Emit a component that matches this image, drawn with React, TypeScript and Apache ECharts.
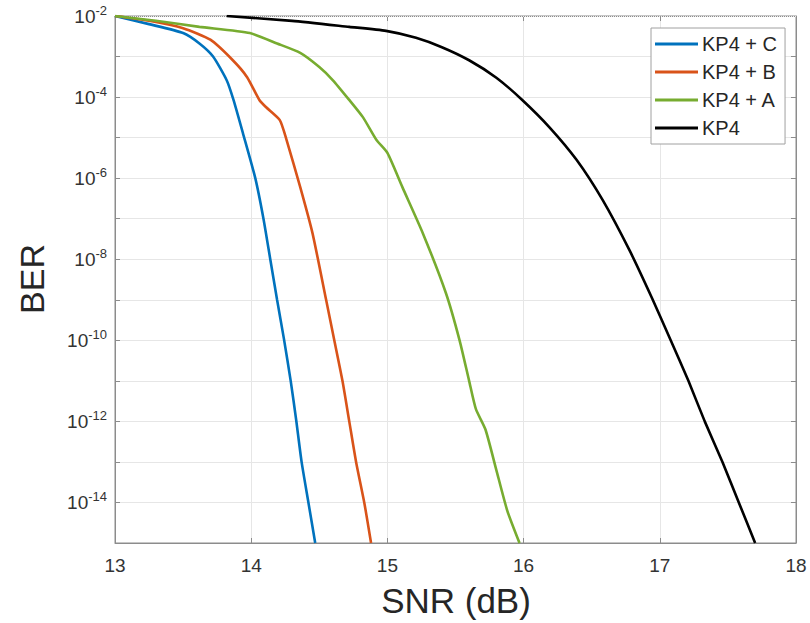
import React, { useEffect, useRef } from "react";
import * as echarts from "echarts";

// SNR (dB) / BER readings
const snrC = [13.0, 13.25, 13.5, 13.62, 13.72, 13.82, 13.87, 13.94, 14.03, 14.09, 14.14, 14.19, 14.24, 14.29, 14.33, 14.37, 14.42, 14.47];
const berC = [1.0e-2, 6.3e-3, 3.8e-3, 2.1e-3, 1.0e-3, 2.6e-4, 8.5e-5, 1.26e-5, 1.0e-6, 1.0e-7, 1.0e-8, 1.0e-9, 1.1e-10, 1.0e-11, 1.1e-12, 1.0e-13, 1.0e-14, 1.0e-15];

const snrB = [13.0, 13.25, 13.5, 13.7, 13.865, 13.97, 14.06, 14.11, 14.21, 14.26, 14.36, 14.45, 14.55, 14.61, 14.67, 14.72, 14.77, 14.83, 14.88];
const berB = [1.0e-2, 7.6e-3, 5.0e-3, 2.6e-3, 8.1e-4, 3.1e-4, 8.5e-5, 5.6e-5, 2.7e-5, 8.7e-6, 6.0e-7, 4.4e-8, 1.0e-9, 1.0e-10, 1.0e-11, 1.0e-12, 1.0e-13, 1.0e-14, 1.0e-15];

const snrA = [13.0, 13.3, 13.62, 13.99, 14.19, 14.36, 14.5, 14.6, 14.72, 14.82, 14.92, 15.0, 15.11, 15.26, 15.43, 15.53, 15.6, 15.65, 15.72, 15.8, 15.88, 15.97];
const berA = [1.0e-2, 7.6e-3, 5.4e-3, 3.8e-3, 2.1e-3, 1.23e-3, 5.5e-4, 2.6e-4, 8.5e-5, 3.2e-5, 8.7e-6, 4.2e-6, 6.0e-7, 4.4e-8, 1.45e-9, 1.0e-10, 1.0e-11, 2.0e-12, 6.3e-13, 6.3e-14, 6.3e-15, 1.0e-15];

const snrK = [13.82, 14.3, 14.72, 14.99, 15.21, 15.4, 15.6, 15.8, 15.99, 16.19, 16.39, 16.58, 16.78, 16.94, 17.08, 17.21, 17.33, 17.46, 17.58, 17.7];
const berK = [1.0e-2, 7.6e-3, 5.4e-3, 4.3e-3, 2.9e-3, 1.7e-3, 8.1e-4, 3.0e-4, 8.5e-5, 1.8e-5, 2.8e-6, 2.9e-7, 1.6e-8, 1.15e-9, 1.0e-10, 1.0e-11, 1.0e-12, 1.0e-13, 1.0e-14, 1.0e-15];

const seriesNames = ["KP4 + C", "KP4 + B", "KP4 + A", "KP4"];
const seriesColors = ["#0072BD", "#D95319", "#77AC30", "#000000"];
const yMinExp = -15;
const yMaxExp = -2;

const FONT = "'Liberation Sans', Arial, Helvetica, sans-serif";

function zip(xs: number[], ys: number[]) {
  return xs.map((x, i) => [x, ys[i]]);
}

export default function App() {
  const ref = useRef<HTMLDivElement>(null);
  useEffect(() => {
    if (!ref.current) return;
    const chart = echarts.init(ref.current, undefined, { renderer: "svg" });

    const minorLines: { yAxis: number }[] = [];
    for (let e = yMinExp; e < yMaxExp; e++) {
      for (let k = 2; k <= 9; k++) minorLines.push({ yAxis: k * Math.pow(10, e) });
    }

    const datasets = [zip(snrC, berC), zip(snrB, berB), zip(snrA, berA), zip(snrK, berK)];

    const yLabel = (v: number) => {
      const e = Math.round(Math.log10(v));
      if (e % 2 !== 0) return "";
      return `{b|10}{s|${e}}`;
    };

    chart.setOption({
      animation: false,
      backgroundColor: "#ffffff",
      grid: {
        left: 115,
        right: 14,
        top: 16,
        bottom: 80,
        show: true,
        borderColor: "#8c8c8c",
        borderWidth: 1,
        backgroundColor: "#ffffff",
      },
      legend: {
        data: seriesNames,
        orient: "vertical",
        left: 651,
        top: 28,
        icon: "rect",
        itemWidth: 43,
        itemHeight: 3,
        itemGap: 8,
        padding: [6, 8, 6, 4],
        backgroundColor: "#ffffff",
        borderColor: "#a0a0a0",
        borderWidth: 1,
        textStyle: { fontSize: 20, color: "#262626", fontFamily: FONT, padding: [0, 0, 0, -1] },
      },
      xAxis: [
        {
          type: "value",
          min: 13,
          max: 18,
          interval: 1,
          axisLine: { show: true, lineStyle: { color: "#8c8c8c" } },
          axisTick: { show: true, inside: true, length: 5, lineStyle: { color: "#8c8c8c" } },
          axisLabel: { fontSize: 19, color: "#333333", fontFamily: FONT, margin: 13 },
          splitLine: { show: true, lineStyle: { color: "#e6e6e6", width: 1 } },
        },
        {
          type: "value",
          position: "top",
          min: 13,
          max: 18,
          interval: 1,
          axisLine: { show: true, lineStyle: { color: "#8c8c8c" } },
          axisTick: { show: true, inside: true, length: 5, lineStyle: { color: "#8c8c8c" } },
          axisLabel: { show: false },
          splitLine: { show: false },
        },
      ],
      yAxis: [
        {
          type: "log",
          logBase: 10,
          min: Math.pow(10, yMinExp),
          max: Math.pow(10, yMaxExp),
          interval: 1,
          axisLine: { show: true, lineStyle: { color: "#8c8c8c" } },
          axisTick: { show: true, inside: true, length: 5, lineStyle: { color: "#8c8c8c" } },
          axisLabel: {
            formatter: yLabel,
            margin: 8,
            rich: {
              b: { fontSize: 19, color: "#333333", fontFamily: FONT },
              s: { fontSize: 13, color: "#333333", fontFamily: FONT, verticalAlign: "bottom", padding: [0, 0, 12, 0] },
            },
          },
          splitLine: { show: true, lineStyle: { color: "#e6e6e6", width: 1 } },
        },
        {
          type: "log",
          logBase: 10,
          position: "right",
          min: Math.pow(10, yMinExp),
          max: Math.pow(10, yMaxExp),
          interval: 1,
          axisLine: { show: true, lineStyle: { color: "#8c8c8c" } },
          axisTick: { show: true, inside: true, length: 5, lineStyle: { color: "#8c8c8c" } },
          axisLabel: { show: false },
          splitLine: { show: false },
        },
      ],
      graphic: [
        {
          type: "text",
          x: 32,
          y: 279,
          rotation: Math.PI / 2,
          style: {
            text: "BER",
            fontSize: 34,
            fontFamily: FONT,
            fill: "#262626",
            textAlign: "center",
            textVerticalAlign: "middle",
          },
        },
        {
          type: "text",
          x: 456,
          y: 600,
          style: {
            text: "SNR (dB)",
            fontSize: 35,
            fontFamily: FONT,
            fill: "#262626",
            textAlign: "center",
            textVerticalAlign: "middle",
          },
        },
      ],
      series: seriesNames.map((name, i) => ({
        name,
        type: "line",
        data: datasets[i],
        showSymbol: false,
        symbol: "none",
        smooth: 0.2,
        color: seriesColors[i],
        lineStyle: { width: 2.6, color: seriesColors[i] },
        z: 3,
        ...(i === 0
          ? {
              markLine: {
                silent: true,
                symbol: "none",
                label: { show: false },
                lineStyle: { color: "#ededed", type: "dotted", width: 1 },
                emphasis: { disabled: true },
                z: 1,
                data: minorLines,
              },
            }
          : {}),
      })),
    });
    return () => chart.dispose();
  }, []);
  return <div ref={ref} style={{ width: 810, height: 623, position: "absolute", left: 0, top: 0 }} />;
}
